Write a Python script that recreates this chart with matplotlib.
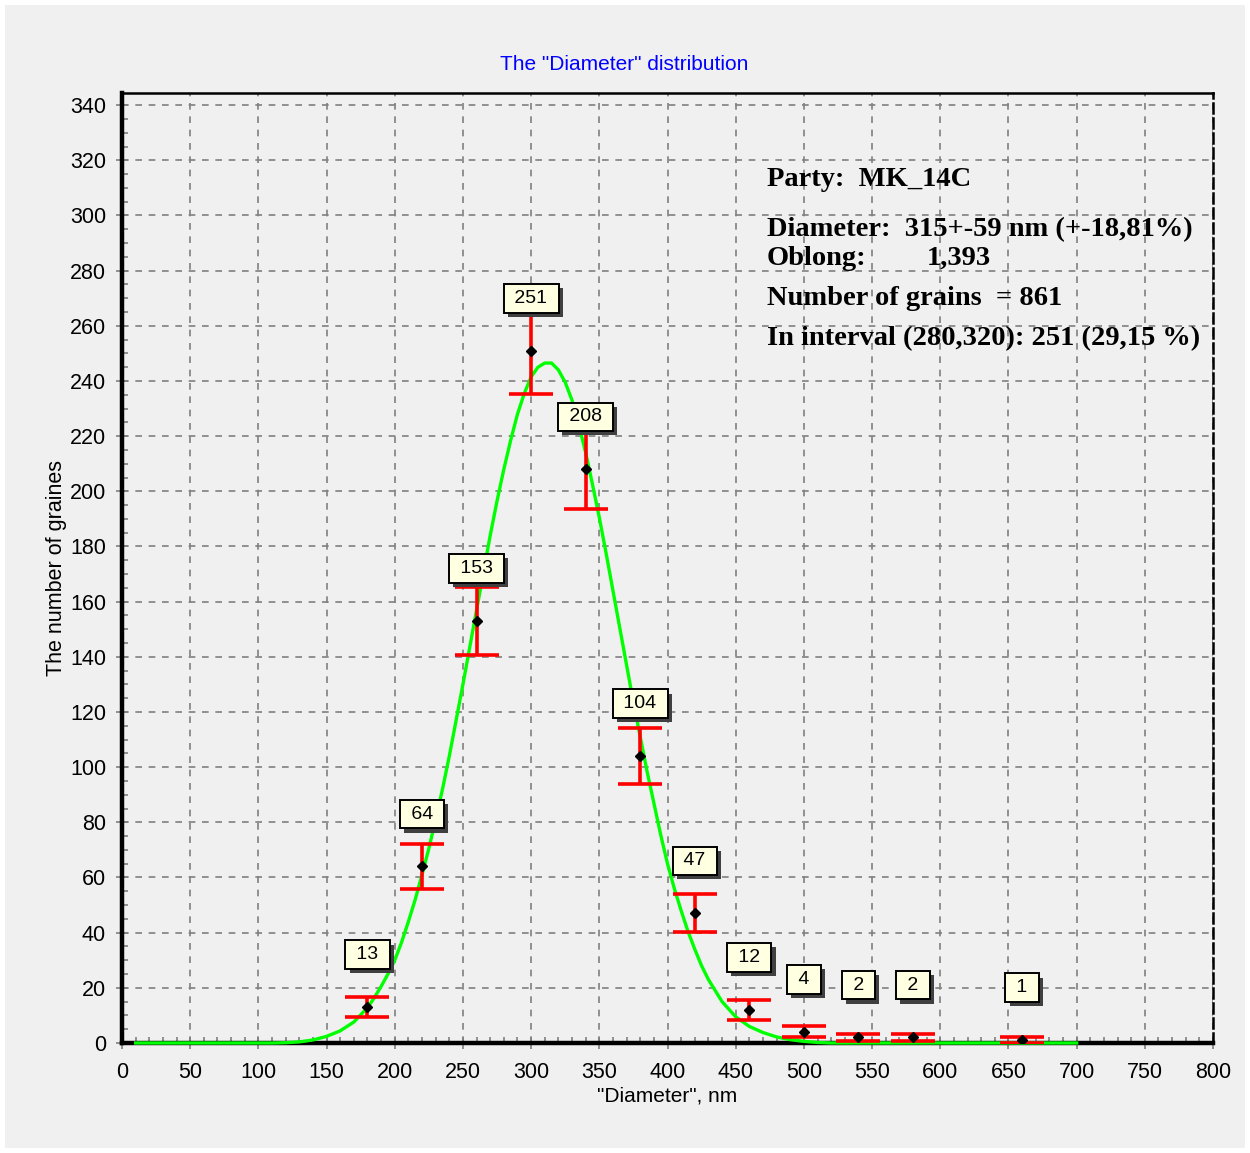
import matplotlib
matplotlib.use("Agg")
import matplotlib.pyplot as plt
import numpy as np
from matplotlib.patches import Rectangle
from matplotlib.ticker import MultipleLocator
import matplotlib.patheffects as pe

# measured bins (nm) and counts
diam = [180, 220, 260, 300, 340, 380, 420, 460, 500, 540, 580, 660]
counts = [13, 64, 153, 251, 208, 104, 47, 12, 4, 2, 2, 1]
errs = [3.6, 8.0, 12.4, 15.8, 14.4, 10.2, 6.9, 3.5, 2.0, 1.4, 1.4, 1.0]

# fitted curve
fit_x = [10, 100, 110, 120, 130, 140, 150, 160, 170, 180, 185, 190, 195, 200, 205,
         210, 215, 220, 225, 230, 235, 240, 245, 250, 255, 260, 265, 270, 275,
         280, 285, 290, 295, 300, 305, 310, 315, 320, 325, 330, 335, 340, 345,
         350, 355, 360, 365, 370, 375, 380, 385, 390, 395, 400, 405, 410, 415,
         420, 425, 430, 440, 450, 460, 470, 480, 490, 500, 510, 520, 700]
fit_y = [0, 0, 0, 0.1, 0.4, 1.1, 2.4, 4.4, 7.6, 12.8, 16.4, 20.5, 25, 30, 36.5,
         44, 52, 61, 70.5, 81, 92, 104, 117, 130, 143.5, 157, 170.5, 184, 196.5,
         208, 218.5, 228, 235.5, 241.5, 245, 246.5, 246.5, 244, 239.5, 233, 224, 214, 202.5,
         190.5, 177.5, 164, 150.5, 137, 123.5, 111, 98.5, 87, 75.5, 65, 56, 48, 40.5,
         34, 28, 23, 15, 9.5, 6, 3.8, 2.2, 1.2, 0.6, 0.2, 0, 0]

info_lines = ["Party:  MK_14C",
              "Diameter:  315+-59 nm (+-18,81%)",
              "Oblong:",
              "Number of grains  = 861",
              "In interval (280,320): 251 (29,15 %)"]
info_y = [313, 295, 284.5, 270, 255.5]

bg = "#f0f0f0"
fig = plt.figure(figsize=(12.5, 11.53), dpi=100)
fig.patch.set_facecolor("white")
fig.patches.append(Rectangle((5 / 1250, 5 / 1153), 1240 / 1250, 1143 / 1153,
                             transform=fig.transFigure, facecolor=bg,
                             edgecolor="none", zorder=-10))

ax = fig.add_axes([122 / 1250, 1 - 1043 / 1153, (1213 - 122) / 1250, (1043 - 93) / 1153])
ax.set_facecolor(bg)
ax.set_xlim(0, 800)
ax.set_ylim(0, 344.4)

ax.xaxis.set_major_locator(MultipleLocator(50))
ax.xaxis.set_minor_locator(MultipleLocator(10))
ax.yaxis.set_major_locator(MultipleLocator(20))
ax.yaxis.set_minor_locator(MultipleLocator(5))
ax.tick_params(which="major", direction="inout", length=9, width=1.2, color="#808080",
               labelsize=15.5)
ax.tick_params(axis="x", which="major", pad=9)
ax.tick_params(axis="y", which="major", pad=7)
ax.tick_params(which="minor", direction="in", length=4, width=1.2, color="#808080")
for lab in ax.get_xticklabels() + ax.get_yticklabels():
    lab.set_family("Liberation Sans")

ax.grid(True, which="major", color="#808080", linestyle=(0, (4, 4)), linewidth=1.2)
ax.set_axisbelow(True)

for s in ["left", "bottom"]:
    ax.spines[s].set_linewidth(3.2)
    ax.spines[s].set_color("black")
ax.spines["top"].set_linewidth(1.8)
ax.spines["right"].set_linewidth(1.8)
ax.spines["right"].set_linestyle((0, (4, 2)))

ax.plot(fit_x, fit_y, color="#00ff00", linewidth=2.4, zorder=3, clip_on=False,
        solid_joinstyle="round")

ax.errorbar(diam, counts, yerr=errs, fmt="none", ecolor="red", elinewidth=2.6,
            capsize=16, capthick=2.6, zorder=4)
ax.plot(diam, counts, "D", color="black", markersize=5, zorder=5)

# value labels: yellow boxes with a dark drop shadow
for x, c in zip(diam, counts):
    t = ax.text(x, c + 19, " %d " % c, ha="center", va="center", fontsize=14,
                family="Liberation Sans", color="black", zorder=7,
                bbox=dict(boxstyle="square,pad=0.3", facecolor="#ffffe1",
                          edgecolor="black", linewidth=1.4))
    t.get_bbox_patch().set_path_effects([
        pe.SimplePatchShadow(offset=(3, -3), shadow_rgbFace="#404040", alpha=1.0),
        pe.Normal()])

for t, y in zip(info_lines, info_y):
    ax.text(473, y, t, ha="left", va="center", fontsize=20.5, fontweight="bold",
            family="Liberation Serif", zorder=8)
ax.text(590, info_y[2], "1,393", ha="left", va="center", fontsize=20.5,
        fontweight="bold", family="Liberation Serif", zorder=8)

fig.text(624 / 1250, 1 - 65 / 1153, 'The "Diameter" distribution', color="#0000ff",
         ha="center", va="center", fontsize=15, family="Liberation Sans")
ax.set_xlabel('"Diameter", nm', fontsize=15, family="Liberation Sans", labelpad=3)
ax.set_ylabel("The number of graines", fontsize=15.5, family="Liberation Sans", labelpad=2)

fig.savefig("out.png", dpi=100, facecolor=fig.get_facecolor())
